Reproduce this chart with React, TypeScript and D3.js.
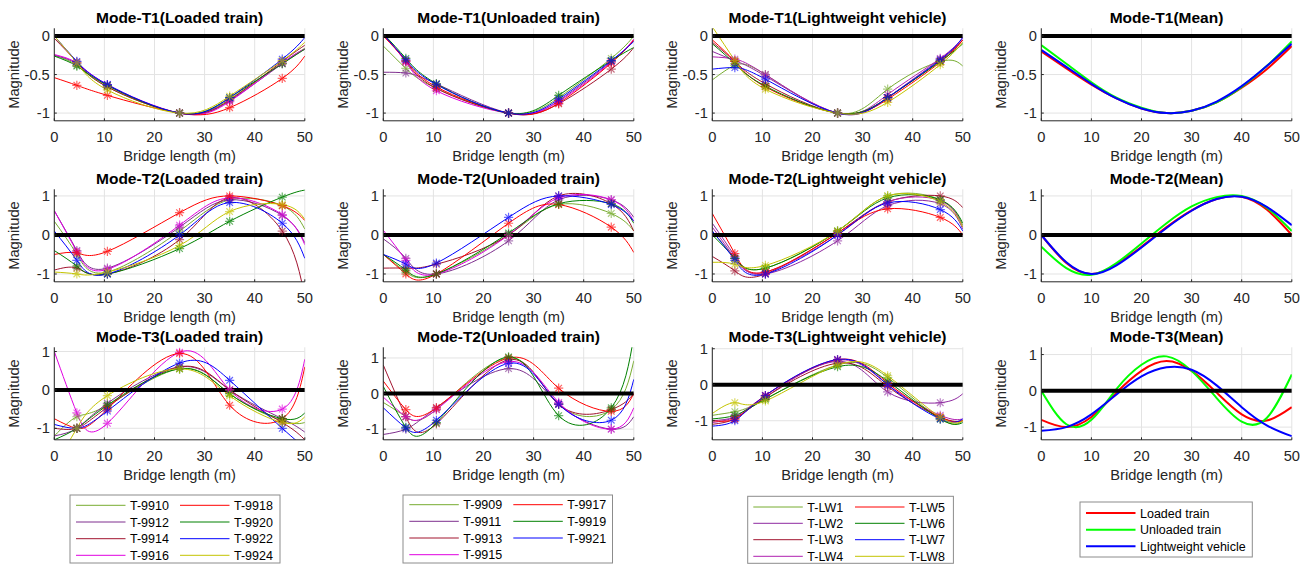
import React from 'react';
import * as d3 from 'd3';

const W = 1311;
const H = 565;

// measurement points along the bridge and the x positions of the fitted curves
const sensorX = [4.5, 10.6, 25, 35, 45.5];
const fitX = [0, 4.5, 10.6, 25, 35, 45.5, 50];
const meanX = [0, 5, 10, 15, 20, 25, 30, 35, 40, 45, 50];
const xTicks = [0, 10, 20, 30, 40, 50];

const loadedNames = ['T-9910', 'T-9912', 'T-9914', 'T-9916', 'T-9918', 'T-9920', 'T-9922', 'T-9924'];
const unloadedNames = ['T-9909', 'T-9911', 'T-9913', 'T-9915', 'T-9917', 'T-9919', 'T-9921'];
const lightNames = ['T-LW1', 'T-LW2', 'T-LW3', 'T-LW4', 'T-LW5', 'T-LW6', 'T-LW7', 'T-LW8'];
const meanNames = ['Loaded train', 'Unloaded train', 'Lightweight vehicle'];

const loadedColors = ['#77ac30', '#7e2f8e', '#a2142f', '#e000e0', '#ff0000', '#008000', '#0000ff', '#c4c400'];
const unloadedColors = ['#77ac30', '#7e2f8e', '#a2142f', '#e000e0', '#ff0000', '#008000', '#0000ff'];
const lightColors = ['#77ac30', '#8e2aa0', '#a2142f', '#b020b0', '#ff0000', '#008000', '#0000ff', '#c4c400'];
const meanColors = ['#ff0000', '#00ff00', '#0000ff'];

// curve values at fitX (markers are the inner five values)
const t1Loaded = [
  [-0.25, -0.38, -0.66, -1, -0.82, -0.35, -0.16],
  [-0.25, -0.36, -0.64, -1, -0.84, -0.36, -0.17],
  [-0.03, -0.34, -0.66, -1, -0.83, -0.33, -0.12],
  [-0.24, -0.35, -0.63, -1, -0.85, -0.35, -0.17],
  [-0.54, -0.64, -0.77, -1, -0.93, -0.55, -0.26],
  [-0.26, -0.39, -0.64, -1, -0.8, -0.36, -0.17],
  [0, -0.33, -0.63, -1, -0.8, -0.3, -0.02],
  [0, -0.35, -0.7, -1, -0.78, -0.32, -0.08],
];
const t1Unloaded = [
  [-0.13, -0.42, -0.68, -1, -0.8, -0.29, 0],
  [-0.47, -0.48, -0.62, -1, -0.84, -0.33, -0.06],
  [0.02, -0.33, -0.68, -1, -0.88, -0.43, -0.15],
  [0.03, -0.34, -0.71, -1, -0.85, -0.34, -0.04],
  [0, -0.32, -0.66, -1, -0.87, -0.35, -0.05],
  [0.03, -0.29, -0.62, -1, -0.77, -0.32, -0.15],
  [0.02, -0.31, -0.63, -1, -0.82, -0.32, -0.07],
];
const t1Light = [
  [-0.57, -0.38, -0.5, -1, -0.69, -0.33, -0.39],
  [-0.2, -0.32, -0.52, -1, -0.8, -0.3, -0.05],
  [-0.08, -0.33, -0.62, -1, -0.8, -0.32, -0.05],
  [-0.27, -0.3, -0.5, -1, -0.76, -0.29, -0.02],
  [-0.05, -0.33, -0.66, -1, -0.82, -0.34, -0.05],
  [-0.1, -0.36, -0.65, -1, -0.8, -0.33, -0.1],
  [-0.43, -0.41, -0.56, -1, -0.8, -0.31, -0.02],
  [0.12, -0.32, -0.69, -1, -0.86, -0.37, -0.08],
];
const t2Loaded = [
  [0.35, -0.5, -0.95, 0.1, 0.9, 0.75, 0.15],
  [0.62, -0.4, -0.85, 0.2, 0.9, 0.5, -0.2],
  [-0.9, -0.85, -1.0, -0.12, 0.95, 0.1, -1.6],
  [0.62, -0.43, -0.88, 0.25, 0.95, 0.52, -0.25],
  [-0.5, -0.46, -0.42, 0.57, 1.0, 0.75, 0.37],
  [-0.4, -0.8, -1.0, -0.35, 0.35, 0.97, 1.15],
  [0.1, -0.65, -1.0, 0.0, 0.83, 0.3, -0.6],
  [-0.95, -1.0, -0.95, -0.27, 0.6, 0.78, 0.4],
];
const t2Unloaded = [
  [-0.5, -0.95, -1.0, 0.0, 0.78, 0.55, 0.1],
  [-0.1, -0.6, -1.0, -0.15, 0.9, 0.9, 0.45],
  [-0.85, -0.85, -0.75, 0.0, 1.0, 0.8, 0.1],
  [0.12, -0.65, -1.0, 0.0, 0.95, 0.9, 0.35],
  [-0.5, -1.0, -1.0, 0.3, 0.78, 0.2, -0.45],
  [-0.5, -0.9, -1.0, 0.05, 0.8, 0.8, 0.3],
  [-0.5, -0.75, -0.72, 0.45, 1.0, 0.78, 0.35],
];
const t2Light = [
  [0.1, -0.6, -0.85, 0.1, 1.0, 0.9, 0.25],
  [0.3, -0.55, -1.0, -0.15, 0.75, 0.8, 0.15],
  [-0.55, -0.92, -1.0, 0.05, 0.85, 1.0, 0.7],
  [0.2, -0.6, -0.95, 0.0, 0.85, 0.88, 0.2],
  [0.55, -0.48, -0.95, 0.05, 0.67, 0.45, 0.0],
  [0.0, -0.6, -0.85, 0.1, 0.95, 0.9, 0.3],
  [0.1, -0.65, -1.0, 0.0, 0.82, 0.65, 0.1],
  [-0.7, -0.75, -0.78, 0.1, 1.0, 0.85, 0.2],
];
const t3Loaded = [
  [-1.2, -0.7, -0.4, 0.55, -0.1, -0.8, -0.85],
  [-1.2, -1.0, -0.35, 0.6, 0.0, -0.75, -1.1],
  [-1.0, -1.0, -0.45, 0.6, 0.0, -0.85, -1.3],
  [1.0, -0.6, -0.87, 0.98, 0.0, -0.5, 0.8],
  [-0.75, -1.0, -0.5, 0.95, -0.4, -0.75, 0.6],
  [-1.3, -1.0, -0.4, 0.55, -0.1, -0.75, -0.6],
  [-0.9, -1.0, -0.55, 0.7, 0.25, -1.0, -1.5],
  [-2.0, -1.0, -0.15, 0.55, -0.15, -0.85, -0.7],
];
const t2UnloadedB = [
  [-0.25, -0.65, -0.45, 1.0, -0.3, -0.45, 0.92],
  [-1.15, -1.0, -0.4, 0.7, -0.3, -1.0, -0.65],
  [0.8, -0.65, -0.85, 0.95, -0.3, -0.45, 0.0],
  [-0.1, -0.65, -0.45, 0.9, -0.25, -1.0, -0.4],
  [0.35, -0.45, -0.4, 1.0, 0.15, -0.5, 0.0],
  [0.2, -0.95, -0.82, 1.03, -0.62, -0.4, 1.6],
  [-0.4, -0.97, -0.75, 0.85, -0.3, -0.75, 0.4],
];
const t3Light = [
  [-0.85, -0.75, -0.4, 0.55, 0.2, -0.95, -1.0],
  [-1.0, -0.9, -0.35, 0.65, -0.2, -0.5, -0.25],
  [-1.1, -0.95, -0.35, 0.6, -0.05, -0.9, -1.0],
  [-1.05, -0.9, -0.3, 0.68, 0.0, -0.85, -0.95],
  [-1.0, -0.95, -0.3, 0.7, 0.05, -0.9, -1.0],
  [-0.95, -0.85, -0.4, 0.5, 0.1, -0.95, -1.05],
  [-1.15, -1.0, -0.3, 0.7, 0.0, -0.95, -0.95],
  [-0.8, -0.5, -0.45, 0.55, 0.25, -0.9, -1.0],
];

// mean mode shapes at meanX
const t1Mean = [
  [-0.2, -0.42, -0.63, -0.81, -0.94, -1.0, -0.97, -0.86, -0.67, -0.43, -0.13],
  [-0.12, -0.36, -0.6, -0.8, -0.93, -1.0, -0.97, -0.86, -0.66, -0.39, -0.07],
  [-0.18, -0.4, -0.62, -0.81, -0.94, -1.0, -0.97, -0.85, -0.65, -0.39, -0.1],
];
const t2Mean = [
  [0.0, -0.72, -1.0, -0.75, -0.3, 0.2, 0.63, 0.92, 0.98, 0.65, 0.0],
  [-0.3, -0.85, -1.02, -0.72, -0.22, 0.3, 0.73, 0.97, 1.0, 0.7, 0.1],
  [0.0, -0.7, -1.0, -0.78, -0.32, 0.18, 0.62, 0.92, 0.98, 0.72, 0.25],
];
const t3Mean = [
  [-0.8, -1.0, -0.72, -0.05, 0.55, 0.82, 0.55, -0.05, -0.65, -0.82, -0.45],
  [0.0, -0.92, -0.8, 0.05, 0.72, 0.95, 0.55, -0.2, -0.85, -0.75, 0.45],
  [-1.1, -1.0, -0.65, -0.1, 0.4, 0.65, 0.58, 0.15, -0.45, -0.95, -1.25],
];

const colLeft = [54.3, 383.3, 712.3, 1041.3];
const rowTop = [28.3, 189.3, 347.3];
const plotW = 250.5;
const plotH = 92.5;
const font = '"Liberation Sans", Arial, sans-serif';
const axisColor = '#262626';
const labelSize = 14.7;

const panels = [
  { title: 'Mode-T1(Loaded train)', row: 0, col: 0, y: [-1.1, 0.1], data: t1Loaded, colors: loadedColors },
  { title: 'Mode-T1(Unloaded train)', row: 0, col: 1, y: [-1.1, 0.1], data: t1Unloaded, colors: unloadedColors },
  { title: 'Mode-T1(Lightweight vehicle)', row: 0, col: 2, y: [-1.1, 0.1], data: t1Light, colors: lightColors },
  { title: 'Mode-T1(Mean)', row: 0, col: 3, y: [-1.1, 0.1], data: t1Mean, colors: meanColors, mean: true },
  { title: 'Mode-T2(Loaded train)', row: 1, col: 0, y: [-1.2, 1.17], data: t2Loaded, colors: loadedColors },
  { title: 'Mode-T2(Unloaded train)', row: 1, col: 1, y: [-1.2, 1.17], data: t2Unloaded, colors: unloadedColors },
  { title: 'Mode-T2(Lightweight vehicle)', row: 1, col: 2, y: [-1.2, 1.17], data: t2Light, colors: lightColors },
  { title: 'Mode-T2(Mean)', row: 1, col: 3, y: [-1.2, 1.17], data: t2Mean, colors: meanColors, mean: true },
  { title: 'Mode-T3(Loaded train)', row: 2, col: 0, y: [-1.3, 1.11], data: t3Loaded, colors: loadedColors },
  { title: 'Mode-T2(Unloaded train)', row: 2, col: 1, y: [-1.3, 1.3], data: t2UnloadedB, colors: unloadedColors },
  { title: 'Mode-T3(Lightweight vehicle)', row: 2, col: 2, y: [-1.53, 1.04], data: t3Light, colors: lightColors },
  { title: 'Mode-T3(Mean)', row: 2, col: 3, y: [-1.35, 1.2], data: t3Mean, colors: meanColors, mean: true },
];

const legends = [
  { names: loadedNames, colors: loadedColors, box: [70, 495, 210, 68], lines: [76, 180], rows: [505.3, 522, 538.7, 555.3], width: 1 },
  { names: unloadedNames, colors: unloadedColors, box: [403, 495, 209.5, 68], lines: [409.3, 513.3], rows: [504.7, 521.3, 538, 554.7], width: 1 },
  { names: lightNames, colors: lightColors, box: [747.7, 496.3, 205.7, 67], lines: [753.3, 855], rows: [507, 523.3, 539.7, 556.3], width: 1 },
  { names: meanNames, colors: meanColors, box: [1080, 502, 172.3, 55], lines: [1086], rows: [513, 529.7, 546.3], width: 2 },
];

const star = 'M-4.6,0H4.6M0,-4.6V4.6M-3.3,-3.3L3.3,3.3M-3.3,3.3L3.3,-3.3';

function Panel({ p, i }) {
  const left = colLeft[p.col];
  const top = rowTop[p.row];
  const x = d3.scaleLinear().domain([0, 50]).range([left, left + plotW]);
  const y = d3.scaleLinear().domain(p.y).range([top + plotH, top]);
  const yTicks = p.row === 0 ? [-1, -0.5, 0] : [-1, 0, 1];
  const xs = p.mean ? meanX : fitX;
  const line = d3.line<number>().x((_, k) => x(xs[k])).y(d => y(d)).curve(d3.curveNatural);
  const clipId = `clip${i}`;
  return (
    <g>
      <clipPath id={clipId}>
        <rect x={left} y={top} width={plotW} height={plotH} />
      </clipPath>
      {xTicks.map(t => (
        <line key={'gx' + t} x1={x(t)} x2={x(t)} y1={top} y2={top + plotH} stroke="#e3e3e3" />
      ))}
      {yTicks.map(t => (
        <line key={'gy' + t} x1={left} x2={left + plotW} y1={y(t)} y2={y(t)} stroke="#e3e3e3" />
      ))}
      <g clipPath={`url(#${clipId})`}>
        {p.data.map((s, k) => (
          <path key={k} d={line(s) || ''} fill="none" stroke={p.colors[k]} strokeWidth={p.mean ? 2 : 1} />
        ))}
        <line x1={x(0)} x2={x(50)} y1={y(0)} y2={y(0)} stroke="#000" strokeWidth={4} />
        {!p.mean && p.data.map((s, k) => (
          <g key={'m' + k} stroke={p.colors[k]} strokeWidth={1.2} opacity={0.6}>
            {sensorX.map((sx, j) => (
              <path key={j} d={star} transform={`translate(${x(sx)},${y(s[j + 1])})`} />
            ))}
          </g>
        ))}
      </g>
      <line x1={left} x2={left} y1={top} y2={top + plotH} stroke={axisColor} />
      <line x1={left} x2={left + plotW} y1={top + plotH} y2={top + plotH} stroke={axisColor} />
      {xTicks.map(t => (
        <g key={'tx' + t}>
          <line x1={x(t)} x2={x(t)} y1={top + plotH} y2={top + plotH - 2.5} stroke={axisColor} />
          <text x={x(t)} y={top + plotH + 21} textAnchor="middle" fontSize={labelSize} fill={axisColor}>{t}</text>
        </g>
      ))}
      {yTicks.map(t => (
        <g key={'ty' + t}>
          <line x1={left} x2={left + 2.5} y1={y(t)} y2={y(t)} stroke={axisColor} />
          <text x={left - 4.5} y={y(t) + 5.2} textAnchor="end" fontSize={labelSize} fill={axisColor}>{t}</text>
        </g>
      ))}
      <text x={left + plotW / 2} y={top - 5.6} textAnchor="middle" fontSize={15.5} fontWeight="bold" fill="#000">{p.title}</text>
      <text x={left + plotW / 2} y={top + plotH + 39.7} textAnchor="middle" fontSize={labelSize} fill={axisColor}>Bridge length (m)</text>
      <text transform={`translate(${left - 35},${top + plotH / 2}) rotate(-90)`} textAnchor="middle" fontSize={labelSize} fill={axisColor}>Magnitude</text>
    </g>
  );
}

function Legend({ l }) {
  const [bx, by, bw, bh] = l.box;
  const perCol = l.rows.length;
  return (
    <g>
      <rect x={bx} y={by} width={bw} height={bh} fill="#fff" stroke="#8c8c8c" />
      {l.names.map((n, k) => {
        const c = Math.floor(k / perCol);
        const r = k % perCol;
        const lx = l.lines[c];
        const ly = l.rows[r];
        return (
          <g key={n}>
            <line x1={lx} x2={lx + 49.5} y1={ly} y2={ly} stroke={l.colors[k]} strokeWidth={l.width} />
            <text x={lx + 54} y={ly + 4.5} fontSize={12.5} fill="#000">{n}</text>
          </g>
        );
      })}
    </g>
  );
}

export default function App() {
  return (
    <svg width={W} height={H} style={{ position: 'absolute', left: 0, top: 0, background: '#fff' }} fontFamily={font}>
      <rect width={W} height={H} fill="#fff" />
      {panels.map((p, i) => <Panel key={i} p={p} i={i} />)}
      {legends.map((l, i) => <Legend key={i} l={l} />)}
    </svg>
  );
}
